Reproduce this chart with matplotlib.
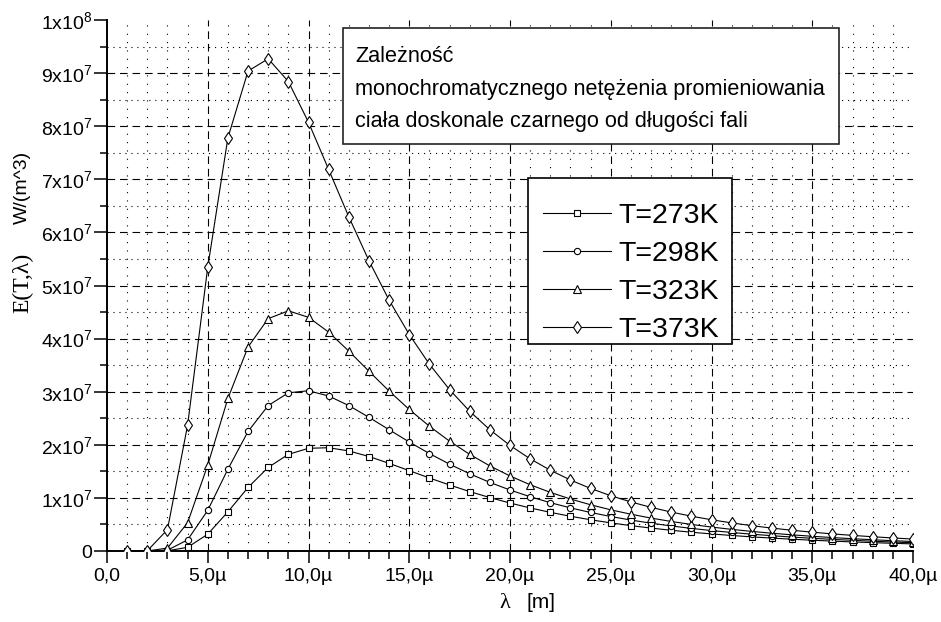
import numpy as np
import matplotlib
matplotlib.use("Agg")
import matplotlib.pyplot as plt
from matplotlib.ticker import MultipleLocator, FuncFormatter
from matplotlib.patches import Rectangle

plt.rcParams['font.family'] = ['Liberation Sans', 'DejaVu Sans']
plt.rcParams['mathtext.default'] = 'regular'
plt.rcParams['lines.scale_dashes'] = False

# --- data: wavelength in micrometres, exitance in units of 1e6 W/m^3 ---
lam = list(range(1, 41))

e_273 = [0.0, 0.00004, 0.036, 0.693, 3.166, 7.373, 11.968, 15.745, 18.194, 19.34,
         19.45, 18.846, 17.795, 16.51, 15.13, 13.75, 12.43, 11.194, 10.061, 9.032,
         8.107, 7.279, 6.540, 5.882, 5.298, 4.778, 4.315, 3.904, 3.538, 3.212,
         2.921, 2.660, 2.428, 2.219, 2.031, 1.862, 1.710, 1.573, 1.449, 1.336]
e_298 = [0.0, 0.0004, 0.158, 2.092, 7.665, 15.406, 22.517, 27.39, 29.79, 30.18,
         29.19, 27.39, 25.18, 22.84, 20.53, 18.355, 16.35, 14.54, 12.92, 11.486,
         10.219, 9.102, 8.120, 7.255, 6.496, 5.827, 5.238, 4.717, 4.257, 3.850,
         3.488, 3.167, 2.880, 2.625, 2.396, 2.192, 2.008, 1.843, 1.694, 1.559]
e_323 = [0.0, 0.0025, 0.548, 5.327, 16.187, 28.73, 38.43, 43.76, 45.23, 44.01,
         41.22, 37.65, 33.85, 30.13, 26.655, 23.50, 20.685, 18.20, 16.03, 14.13,
         12.48, 11.043, 9.794, 8.705, 7.755, 6.926, 6.200, 5.563, 5.004, 4.510,
         4.075, 3.689, 3.347, 3.043, 2.772, 2.529, 2.313, 2.119, 1.944, 1.787]
e_373 = [0.0, 0.049, 4.012, 23.70, 53.45, 77.80, 90.39, 92.70, 88.41, 80.74,
         71.85, 62.94, 54.66, 47.24, 40.77, 35.18, 30.39, 26.31, 22.84, 19.88,
         17.36, 15.21, 13.365, 11.78, 10.416, 9.239, 8.218, 7.332, 6.559, 5.882,
         5.290, 4.769, 4.310, 3.904, 3.544, 3.223, 2.939, 2.684, 2.456, 2.251]

series = [
    ('T=273K', e_273, 's', 4.2),
    ('T=298K', e_298, 'o', 4.5),
    ('T=323K', e_323, '^', 5.2),
    ('T=373K', e_373, 'd', 6.0),
]

W, H = 941, 622
fig = plt.figure(figsize=(9.41, 6.22), dpi=100)
ax = fig.add_axes([107 / W, 1 - 551 / H, 806 / W, 531 / H])

for label, vals, mk, ms in series:
    ax.plot(lam, np.array(vals) * 1e6, color='k', lw=0.8, marker=mk, ms=ms,
            mfc='white', mec='k', mew=0.8, label=label, zorder=3)

ax.set_xlim(0, 40)
ax.set_ylim(0, 1e8)

ax.xaxis.set_major_locator(MultipleLocator(5))
ax.xaxis.set_minor_locator(MultipleLocator(1))
ax.yaxis.set_major_locator(MultipleLocator(1e7))
ax.yaxis.set_minor_locator(MultipleLocator(5e6))


def fmt_x(v, pos):
    if v == 0:
        return '0,0'
    return (f'{v:.1f}' + 'µ').replace('.', ',')


def fmt_y(v, pos):
    if v == 0:
        return '0'
    if v >= 1e8 - 1:
        return r'1x10$^{8}$'
    return r'%dx10$^{7}$' % round(v / 1e7)


ax.xaxis.set_major_formatter(FuncFormatter(fmt_x))
ax.yaxis.set_major_formatter(FuncFormatter(fmt_y))

ax.tick_params(axis='x', which='major', direction='out', length=8.5, width=1.1,
               pad=3.5, labelsize=14)
ax.tick_params(axis='x', which='minor', direction='out', length=6, width=1.1)
ax.tick_params(axis='y', which='major', direction='out', length=9.5, width=1.1,
               pad=1, labelsize=14)
ax.tick_params(axis='y', which='minor', direction='out', length=5, width=1.1)

for side in ['top', 'right']:
    ax.spines[side].set_visible(False)
for side in ['left', 'bottom']:
    ax.spines[side].set_linewidth(1.4)

# grid: dashed at major ticks, dotted at minor ticks (not on the edges)
for v in range(5, 40, 5):
    ax.axvline(v, color='k', lw=0.8, ls=(0, (5.5, 3.5)), zorder=1)
for v in range(1, 40):
    if v % 5:
        ax.axvline(v, color='k', lw=0.8, ls=(0, (0.8, 5.2)), zorder=1)
for v in range(1, 10):
    ax.axhline(v * 1e7, color='k', lw=0.8, ls=(0, (5.5, 3.5)), zorder=1)
for v in range(10):
    ax.axhline(v * 1e7 + 5e6, color='k', lw=0.8, ls=(0, (0.8, 3.5)), zorder=1)

# legend: frame drawn separately so the padding can match the original
ax.add_patch(Rectangle((528 / W, 1 - 344 / H), 204 / W, 166 / H,
                       transform=fig.transFigure, facecolor='white',
                       edgecolor='k', lw=1.2, zorder=4, clip_on=False))
leg = ax.legend(loc='upper left', bbox_to_anchor=(543 / W, 1 - 203 / H),
                bbox_transform=fig.transFigure, borderaxespad=0, borderpad=0,
                fontsize=20.5, handlelength=2.4, handletextpad=0.24,
                labelspacing=0.42, frameon=False)
leg.set_zorder(5)

# title box
fig.add_artist(Rectangle((343 / W, 1 - 144 / H), 496 / W, 116 / H,
                         transform=fig.transFigure, facecolor='white',
                         edgecolor='#222222', lw=1.2, zorder=5))
title_lines = ['Zależność',
               'monochromatycznego netężenia promieniowania',
               'ciała doskonale czarnego od długości fali']
for i, line in enumerate(title_lines):
    fig.text(355 / W, 1 - (57 + 32.5 * i) / H, line, fontsize=15.6,
             ha='left', va='center', zorder=6)

# axis labels
fig.text(23 / W, 1 - 283 / H, 'E(T,λ)', rotation=90, ha='center', va='center',
         fontsize=17, family=['Liberation Serif', 'DejaVu Serif'])
fig.text(22 / W, 1 - 187 / H, 'W/(m^3)', rotation=90, ha='center', va='center',
         fontsize=14)
fig.text(505 / W, 1 - 604 / H, 'λ', ha='center', va='center', fontsize=16,
         family=['Liberation Serif', 'DejaVu Serif'])
fig.text(541 / W, 1 - 603 / H, '[m]', ha='center', va='center', fontsize=15)

fig.savefig('out.png', dpi=100)
